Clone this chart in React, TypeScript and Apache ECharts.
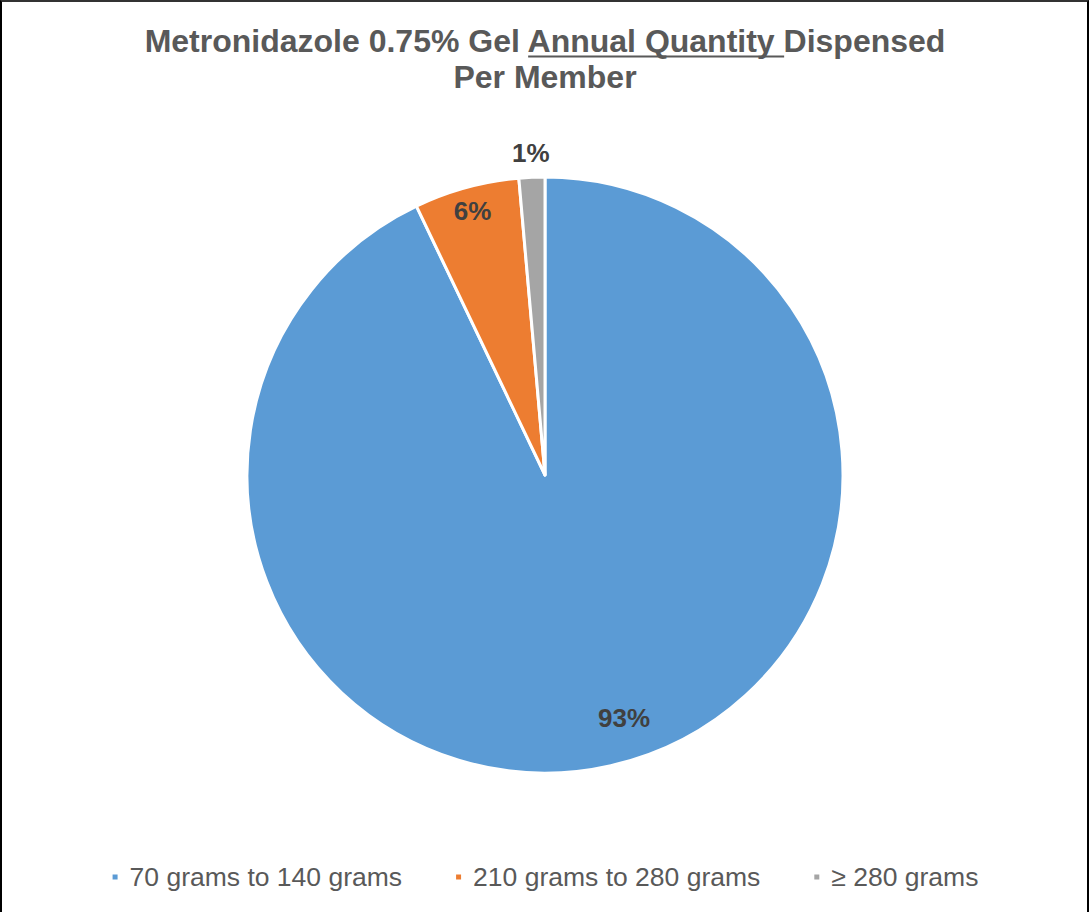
import React, { useEffect, useRef } from "react";
import * as echarts from "echarts";

const titleLine1Before = "Metronidazole 0.75% Gel ";
const titleLine1Underlined = "Annual Quantity ";
const titleLine1After = "Dispensed";
const titleLine2 = "Per Member";

const categories = ["70 grams to 140 grams", "210 grams to 280 grams", "≥ 280 grams"];
const values = [92.9, 5.7, 1.4];
const colors = ["#5B9BD5", "#ED7D31", "#A5A5A5"];

const FONT = "'Liberation Sans', Arial, sans-serif";
const W = 1089;
const H = 912;
const CX = 545;
const CY = 475;
const R = 298;
const TITLE_SIZE = 32;
const labelRadiusRatio = [0.846, 0.91, 1.072];
const labelAngleFrac = [0.484, 0.5, 0.5];

function measure(text: string, font: string): number {
  const c = document.createElement("canvas");
  const ctx = c.getContext("2d");
  if (!ctx) return text.length * 15;
  ctx.font = font;
  return ctx.measureText(text).width;
}

export default function App() {
  const ref = useRef<HTMLDivElement>(null);

  useEffect(() => {
    if (!ref.current) return;
    const chart = echarts.init(ref.current, undefined, { renderer: "svg" });

    const titleFont = `bold ${TITLE_SIZE}px 'Liberation Sans', Arial, sans-serif`;
    const wBefore = measure(titleLine1Before, titleFont);
    const wUnder = measure(titleLine1Underlined, titleFont);
    const wAll = measure(titleLine1Before + titleLine1Underlined + titleLine1After, titleFont);
    const lineStart = CX - wAll / 2;
    const ulX1 = lineStart + wBefore;
    const ulX2 = ulX1 + wUnder;

    const total = values.reduce((a, b) => a + b, 0);

    chart.setOption({
      animation: false,
      backgroundColor: "#ffffff",
      graphic: [
        {
          type: "text",
          x: CX,
          y: 41,
          style: {
            text: titleLine1Before + titleLine1Underlined + titleLine1After,
            fontSize: TITLE_SIZE,
            fontWeight: "bold",
            fontFamily: FONT,
            fill: "#595959",
            align: "center",
            verticalAlign: "middle",
          },
        },
        {
          type: "line",
          shape: { x1: ulX1, y1: 56.5, x2: ulX2, y2: 56.5 },
          style: { stroke: "#595959", lineWidth: 2 },
        },
        {
          type: "text",
          x: CX,
          y: 77,
          style: {
            text: titleLine2,
            fontSize: TITLE_SIZE,
            fontWeight: "bold",
            fontFamily: FONT,
            fill: "#595959",
            align: "center",
            verticalAlign: "middle",
          },
        },
      ],
      legend: {
        data: categories,
        top: 857,
        left: "center",
        icon: "rect",
        itemWidth: 7,
        itemHeight: 7,
        itemGap: 52,
        textStyle: {
          fontSize: 26.5,
          fontFamily: FONT,
          color: "#595959",
          lineHeight: 30,
          padding: [0, 0, 0, 6],
        },
      },
      series: [
        {
          type: "pie",
          center: [CX, CY],
          radius: R,
          startAngle: 90,
          clockwise: true,
          avoidLabelOverlap: false,
          itemStyle: { borderColor: "#ffffff", borderWidth: 3 },
          label: {
            show: true,
            position: "inside",
            fontSize: 26,
            fontWeight: "bold",
            fontFamily: FONT,
            color: "#404040",
            formatter: (p: any) => `${Math.round(p.percent)}%`,
          },
          labelLine: { show: false },
          labelLayout: (params: any) => {
            const i = params.dataIndex;
            let before = 0;
            for (let j = 0; j < i; j++) before += values[j];
            const midDefault = ((before + values[i] / 2) / total) * Math.PI * 2;
            const midTarget = ((before + values[i] * labelAngleFrac[i]) / total) * Math.PI * 2;
            const k = labelRadiusRatio[i];
            const defX = 0.5 * R * Math.sin(midDefault);
            const defY = -0.5 * R * Math.cos(midDefault);
            const tX = k * R * Math.sin(midTarget);
            const tY = -k * R * Math.cos(midTarget);
            return { dx: tX - defX, dy: tY - defY };
          },
          data: categories.map((name, i) => ({
            name,
            value: values[i],
            itemStyle: { color: colors[i] },
          })),
        },
      ],
    });

    return () => chart.dispose();
  }, []);

  return (
    <div style={{ position: "fixed", left: 0, top: 0, width: W, height: H, background: "#fff" }}>
      <div ref={ref} style={{ position: "absolute", left: 0, top: 0, width: W, height: H }} />
      <div
        style={{
          position: "absolute",
          left: 0,
          top: 0,
          width: W,
          height: H,
          boxSizing: "border-box",
          borderLeft: "2px solid #000",
          borderRight: "2px solid #000",
          borderTop: "2px solid #333",
          pointerEvents: "none",
        }}
      />
    </div>
  );
}
